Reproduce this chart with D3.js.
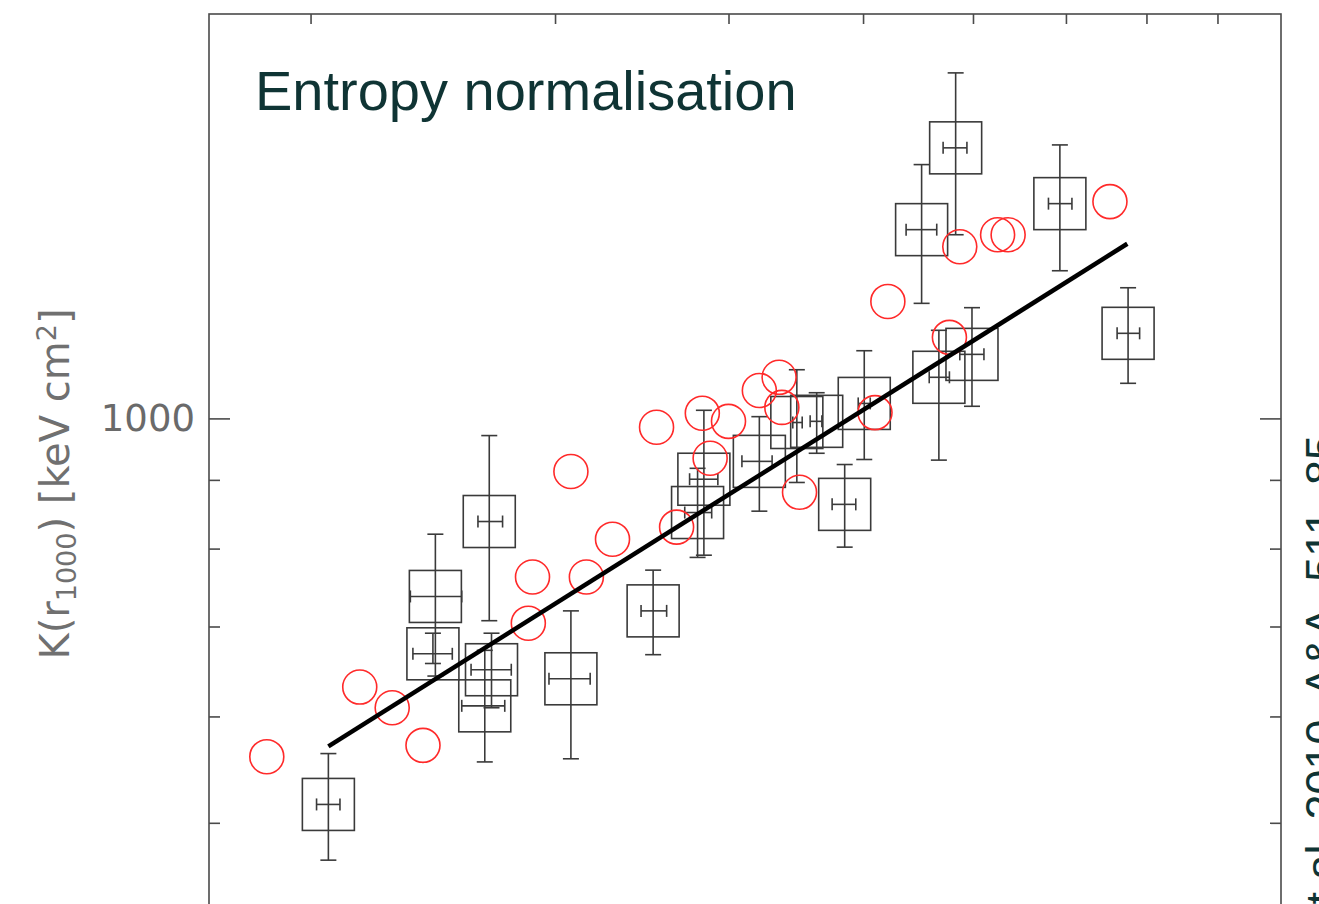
<!DOCTYPE html>
<html>
<head>
<meta charset="utf-8">
<script src="https://cdn.jsdelivr.net/npm/d3@7"></script>
<style>
  html, body { margin: 0; padding: 0; background: #ffffff; overflow: hidden; }
</style>
</head>
<body>
<div id="chart"></div>
<script>
// Simulated clusters (red circles): T [keV] and K(r1000) [keV cm^2]
const simT = [1.86, 2.17, 2.29, 2.41, 2.87, 2.89, 3.16, 3.30, 3.08, 3.55, 3.67, 3.83, 3.88,
              4.00, 4.21, 4.35, 4.37, 4.50, 5.10, 5.21, 5.77, 5.87, 6.25, 6.36, 7.53];
const simK = [560, 631, 609, 571, 704, 762, 762, 813, 913, 985, 830, 1009, 934,
              995, 1049, 1073, 1019, 881, 1010, 1222, 1149, 1342, 1370, 1370, 1450];

// Observed clusters (boxes with error bars)
const obsT   = [2.06, 2.46, 2.45, 2.69, 2.70, 2.67, 3.08, 3.53, 3.84, 3.80, 4.21,
                4.48, 4.63, 5.01, 4.85, 5.67, 5.99, 5.51, 5.83, 6.93, 7.76];
const obsTlo = [2.02, 2.36, 2.37, 2.64, 2.61, 2.57, 2.97, 3.46, 3.75, 3.72, 4.09,
                4.45, 4.58, 4.96, 4.75, 5.58, 5.87, 5.37, 5.71, 6.80, 7.62];
const obsThi = [2.10, 2.57, 2.53, 2.75, 2.79, 2.76, 3.18, 3.61, 3.93, 3.89, 4.30,
                4.52, 4.67, 5.06, 4.94, 5.77, 6.11, 5.65, 5.94, 7.07, 7.91];
const obsK   = [516, 737, 668, 838, 650, 611, 640, 719, 901, 851, 929,
                993, 995, 1026, 863, 1073, 1116, 1382, 1590, 1445, 1157];
const obsKlo = [469, 643, 657, 707, 609, 555, 558, 667, 791, 788, 853,
                896, 942, 932, 802, 931, 1021, 1218, 1370, 1288, 1062];
const obsKhi = [563, 820, 692, 971, 692, 672, 719, 771, 1014, 918, 1003,
                1087, 1045, 1123, 924, 1163, 1209, 1545, 1808, 1598, 1251];

// Best-fit power law (two ends of the straight line in log-log)
const fitT = [2.06, 7.75];
const fitK = [570, 1349];

// Axis ticks
const xMinorTicks = [2, 3, 4, 5, 6, 7, 8, 9];
const yMinorTicks = [400, 500, 600, 700, 800, 900];
const yMajorTicks = [1000];

const W = 1319, H = 904;
const margin = {left: 209, top: 14, right: 38};
const width = W - margin.left - margin.right;
const height = 939;

const svg = d3.select("#chart").append("svg")
    .attr("width", W)
    .attr("height", H);

const g = svg.append("g")
    .attr("transform", `translate(${margin.left},${margin.top})`);

const x = d3.scaleLog().domain([1.69, 10]).range([0, width]);
const y = d3.scaleLog().domain([400, 2000]).range([height, 0]);

const axisColor = "#4a4a4a";
const markColor = "#3a3a3a";

// frame
g.append("rect")
    .attr("x", 0).attr("y", 0)
    .attr("width", width).attr("height", height)
    .attr("fill", "none")
    .attr("stroke", axisColor)
    .attr("stroke-width", 1.6);

function styleAxis(sel) {
    sel.select(".domain").remove();
    sel.selectAll(".tick line").attr("stroke", axisColor).attr("stroke-width", 1.6);
}

// top axis minor ticks
g.append("g")
    .call(d3.axisTop(x).tickValues(xMinorTicks).tickSize(-10).tickFormat(""))
    .call(styleAxis);

// left axis
g.append("g")
    .call(d3.axisLeft(y).tickValues(yMinorTicks).tickSize(-11).tickFormat(""))
    .call(styleAxis);
g.append("g")
    .call(d3.axisLeft(y).tickValues(yMajorTicks).tickSize(-21).tickPadding(14)
        .tickFormat(d3.format("d")))
    .call(styleAxis)
    .call(a => a.selectAll("text")
        .attr("fill", "#6a6a6a")
        .style("font-family", "DejaVu Sans")
        .style("font-size", "37px"));

// right axis
g.append("g")
    .attr("transform", `translate(${width},0)`)
    .call(d3.axisRight(y).tickValues(yMinorTicks).tickSize(-11).tickFormat(""))
    .call(styleAxis);
g.append("g")
    .attr("transform", `translate(${width},0)`)
    .call(d3.axisRight(y).tickValues(yMajorTicks).tickSize(-21).tickFormat(""))
    .call(styleAxis);

// y axis title
const yTitle = svg.append("text")
    .attr("transform", "translate(69,484) rotate(-90)")
    .attr("text-anchor", "middle")
    .attr("fill", "#707070")
    .style("font-family", "DejaVu Sans")
    .style("font-size", "40px");
yTitle.append("tspan").text("K(r");
yTitle.append("tspan").attr("baseline-shift", "-25%").style("font-size", "27px").text("1000");
yTitle.append("tspan").text(") [keV cm");
yTitle.append("tspan").attr("baseline-shift", "50%").style("font-size", "27px").text("2");
yTitle.append("tspan").text("]");

// observed clusters
const obs = obsT.map((t, i) => ({
    t: t, k: obsK[i], tlo: obsTlo[i], thi: obsThi[i], klo: obsKlo[i], khi: obsKhi[i]
}));
const box = 52, capY = 8, capX = 6;

const obsG = g.append("g")
    .attr("stroke", markColor)
    .attr("stroke-width", 1.6)
    .attr("fill", "none");

const o = obsG.selectAll("g.obs").data(obs).enter().append("g").attr("class", "obs");
o.append("rect")
    .attr("x", d => x(d.t) - box / 2)
    .attr("y", d => y(d.k) - box / 2)
    .attr("width", box).attr("height", box);
o.append("line")
    .attr("x1", d => x(d.t)).attr("x2", d => x(d.t))
    .attr("y1", d => y(d.khi)).attr("y2", d => y(d.klo));
o.append("line")
    .attr("x1", d => x(d.t) - capY).attr("x2", d => x(d.t) + capY)
    .attr("y1", d => y(d.khi)).attr("y2", d => y(d.khi));
o.append("line")
    .attr("x1", d => x(d.t) - capY).attr("x2", d => x(d.t) + capY)
    .attr("y1", d => y(d.klo)).attr("y2", d => y(d.klo));
o.append("line")
    .attr("x1", d => x(d.tlo)).attr("x2", d => x(d.thi))
    .attr("y1", d => y(d.k)).attr("y2", d => y(d.k));
o.append("line")
    .attr("x1", d => x(d.tlo)).attr("x2", d => x(d.tlo))
    .attr("y1", d => y(d.k) - capX).attr("y2", d => y(d.k) + capX);
o.append("line")
    .attr("x1", d => x(d.thi)).attr("x2", d => x(d.thi))
    .attr("y1", d => y(d.k) - capX).attr("y2", d => y(d.k) + capX);

// simulated clusters
g.append("g").selectAll("circle")
    .data(simT.map((t, i) => ({t: t, k: simK[i]})))
    .enter().append("circle")
    .attr("cx", d => x(d.t))
    .attr("cy", d => y(d.k))
    .attr("r", 17)
    .attr("fill", "none")
    .attr("stroke", "#ff2a2a")
    .attr("stroke-width", 1.6);

// fit line
const line = d3.line().x(d => x(d[0])).y(d => y(d[1]));
g.append("path")
    .datum(fitT.map((t, i) => [t, fitK[i]]))
    .attr("d", line)
    .attr("fill", "none")
    .attr("stroke", "#000000")
    .attr("stroke-width", 4.5);

// panel title
svg.append("text")
    .attr("x", 255).attr("y", 110)
    .attr("fill", "#0f3434")
    .style("font-family", "Liberation Sans, Arial, sans-serif")
    .style("font-weight", "300")
    .style("font-size", "56px")
    .text("Entropy normalisation");

// reference, running up the right edge (cut by the page edge as in the original)
svg.append("text")
    .attr("transform", "translate(1337,435) rotate(-90)")
    .attr("text-anchor", "end")
    .attr("fill", "#0f3434")
    .style("font-family", "Liberation Sans, Arial, sans-serif")
    .style("font-size", "45px")
    .text("Pratt et al. 2010, A&A, 511, 85");
</script>
</body>
</html>
